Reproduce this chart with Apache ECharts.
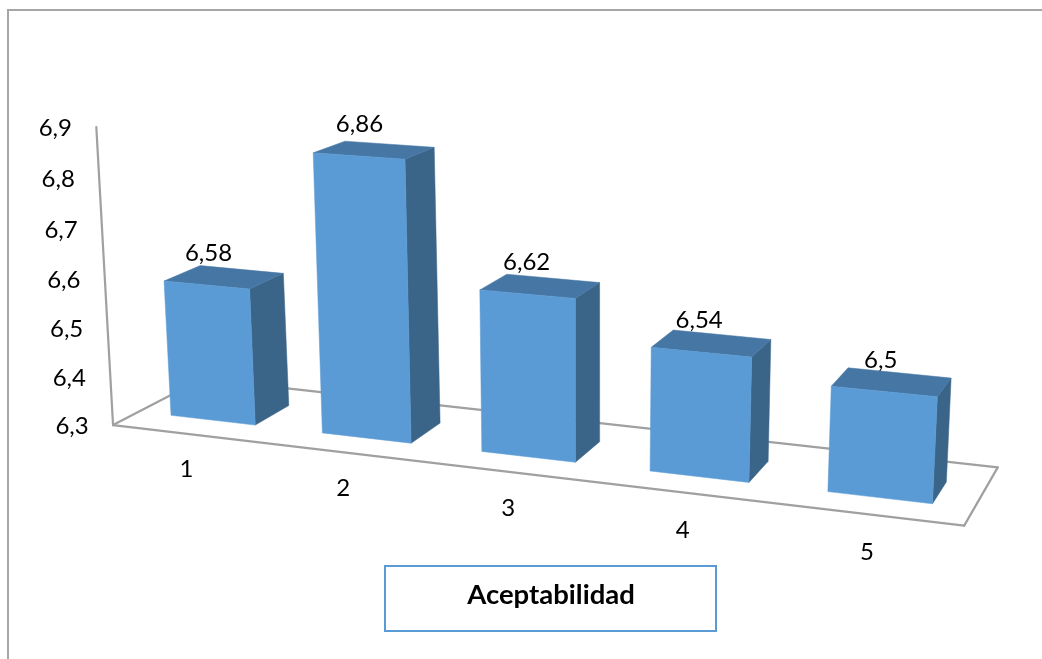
<!DOCTYPE html>
<html>
<head>
<meta charset="utf-8">
<style>html,body{margin:0;padding:0;background:#fff}#chart{width:1042px;height:659px}</style>
<script src="https://cdn.jsdelivr.net/npm/echarts@6/dist/echarts.min.js"></script>
</head>
<body>
<div id="chart"></div>
<script>
const categories = ['1', '2', '3', '4', '5'];
const values = [6.58, 6.86, 6.62, 6.54, 6.5];
const valueTicks = [6.3, 6.4, 6.5, 6.6, 6.7, 6.8, 6.9];
const chartTitle = 'Aceptabilidad';

const FONT = 'Lato, "Open Sans", sans-serif';
const GRID = { left: 20, top: 20, width: 1000, height: 600 };
const BAR_SHARE = 0.563;

// Perspective camera: the plane through the bar fronts as a quad, plus a vanishing point for depth.
const PLANE = [[139, 411.6], [974, 508.6], [991, 176.6], [122.6, 119.6]];
const VANISH = [1411, -250];
const DEPTH = { front: -0.0204, barFront: 0, barBack: 0.029, back: 0.0494 };
const FLOOR_RIGHT_SPREAD = 1.1;

const H = (function (q) {
  const [x0, y0] = q[0], [x1, y1] = q[1], [x2, y2] = q[2], [x3, y3] = q[3];
  const sx = x0 - x1 + x2 - x3, sy = y0 - y1 + y2 - y3;
  const dx1 = x1 - x2, dx2 = x3 - x2, dy1 = y1 - y2, dy2 = y3 - y2;
  const den = dx1 * dy2 - dx2 * dy1;
  const g = (sx * dy2 - dx2 * sy) / den, h = (dx1 * sy - sx * dy1) / den;
  return { a: x1 - x0 + g * x1, b: x3 - x0 + h * x3, c: x0,
           d: y1 - y0 + g * y1, e: y3 - y0 + h * y3, f: y0, g, h };
})(PLANE);

// Grid pixel -> perspective screen pixel at a given depth.
function project(px, py, depth) {
  const u = (px - GRID.left) / GRID.width;
  const v = (GRID.top + GRID.height - py) / GRID.height;
  const w = H.g * u + H.h * v + 1;
  const x = (H.a * u + H.b * v + H.c) / w, y = (H.d * u + H.e * v + H.f) / w;
  return [x + depth * (VANISH[0] - x), y + depth * (VANISH[1] - y)];
}

const textEl = (text, pos, font) => ({
  type: 'text',
  style: { text, x: pos[0], y: pos[1], fill: '#000', font, textAlign: 'center', textVerticalAlign: 'middle' }
});
const comma = v => String(v).replace('.', ',');

const edge = (a, b) => ({
  type: 'line',
  shape: { x1: a[0], y1: a[1], x2: b[0], y2: b[1] },
  style: { stroke: '#A0A0A0', lineWidth: 2.2, lineCap: 'round' }
});

function renderFloor(params, api) {
  const a = api.coord([categories[0], 6.3]), band = api.size([1, 0])[0];
  const l = a[0] - band / 2, r = l + band * categories.length, y0 = a[1];
  const yTop = api.coord([categories[0], 6.9])[1];
  const fl = project(l, y0, DEPTH.front), fr = project(r, y0, DEPTH.front * FLOOR_RIGHT_SPREAD);
  const bl = project(l, y0, DEPTH.back), br = project(r, y0, DEPTH.back * FLOOR_RIGHT_SPREAD);
  const wt = project(l, yTop, DEPTH.front);
  return { type: 'group', children: [edge(fl, fr), edge(fr, br), edge(br, bl), edge(bl, fl), edge(fl, wt)] };
}

function renderBar(params, api) {
  const c = api.coord([api.value(0), api.value(1)]);
  const base = api.coord([api.value(0), 6.3])[1];
  const half = api.size([1, 0])[0] * BAR_SHARE / 2;
  const l = c[0] - half, r = c[0] + half, t = c[1];
  const p = (x, y, d) => project(x, y, d);
  const F = DEPTH.barFront, B = DEPTH.barBack;
  const poly = (points, fill) => ({ type: 'polygon', shape: { points }, style: { fill, stroke: fill, lineWidth: 0.5 } });
  const mid = p(c[0], t, F);
  return {
    type: 'group',
    children: [
      poly([p(r, t, F), p(r, t, B), p(r, base, B), p(r, base, F)], '#3A6488'),
      poly([p(l, t, F), p(l, t, B), p(r, t, B), p(r, t, F)], '#4677A4'),
      poly([p(l, t, F), p(r, t, F), p(r, base, F), p(l, base, F)], '#5B9BD5'),
      textEl(comma(values[params.dataIndex]), [mid[0] + 2 - params.dataIndex * 1.3, mid[1] - 31.5], '24px ' + FONT)
    ]
  };
}

function renderValueTick(params, api) {
  const c = api.coord([categories[0], api.value(0)]);
  const l = c[0] - api.size([1, 0])[0] / 2;
  const pos = project(l, c[1], DEPTH.front);
  return textEl(comma(api.value(0)), [pos[0] - 41, pos[1] + 1], '24px ' + FONT);
}

function renderCategory(params, api) {
  const c = api.coord([api.value(0), 6.3]);
  const pos = project(c[0], c[1], DEPTH.front);
  return textEl(categories[params.dataIndex], [pos[0] - 2, pos[1] + 35 + params.dataIndex * 1.2], '24px ' + FONT);
}

const chart = echarts.init(document.getElementById('chart'), null, { renderer: 'canvas' });
chart.setOption({
  animation: false,
  backgroundColor: '#fff',
  grid: GRID,
  xAxis: { type: 'category', data: categories, show: false },
  yAxis: { type: 'value', min: 6.3, max: 6.9, interval: 0.1, show: false },
  series: [
    { type: 'custom', coordinateSystem: 'cartesian2d', clip: false, silent: true, z: 1, renderItem: renderFloor, data: [[categories[0], 6.3]] },
    { type: 'custom', coordinateSystem: 'cartesian2d', clip: false, silent: true, z: 2, renderItem: renderBar,
      encode: { x: 0, y: 1 }, data: categories.map((c, i) => [c, values[i]]) },
    { type: 'custom', coordinateSystem: 'cartesian2d', clip: false, silent: true, z: 3, renderItem: renderValueTick,
      encode: { y: 0 }, data: valueTicks.map(v => [v]) },
    { type: 'custom', coordinateSystem: 'cartesian2d', clip: false, silent: true, z: 3, renderItem: renderCategory,
      encode: { x: 0 }, data: categories.map(c => [c]) }
  ],
  graphic: [
    { type: 'polyline', silent: true, shape: { points: [[8, 660], [8, 10], [1043, 10]] },
      style: { stroke: '#A6A6A6', lineWidth: 2, fill: 'none' } },
    { type: 'rect', silent: true, shape: { x: 385, y: 566, width: 331, height: 65 },
      style: { fill: '#fff', stroke: '#5B9BD5', lineWidth: 2 } },
    { type: 'text', silent: true, x: 551, y: 595,
      style: { text: chartTitle, fill: '#000', font: 'bold 27.5px ' + FONT, textAlign: 'center', textVerticalAlign: 'middle' } }
  ]
});
</script>
</body>
</html>
